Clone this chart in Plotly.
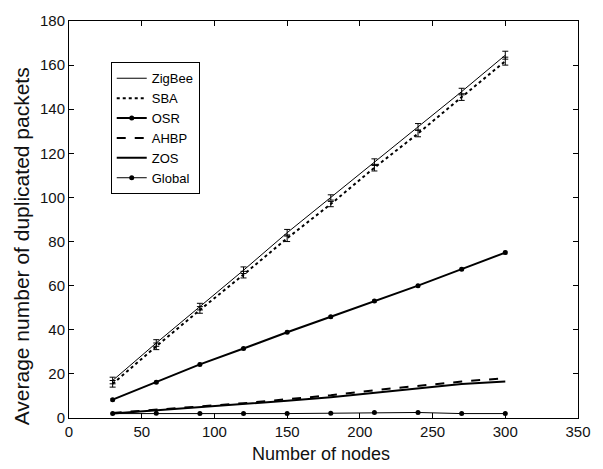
import plotly.graph_objects as go

nodes = [30, 60, 90, 120, 150, 180, 210, 240, 270, 300]
zigbee = [17.0, 34.0, 50.5, 67.0, 84.0, 100.0, 116.0, 132.0, 148.0, 164.5]
zigbee_err = [1.5, 1.5, 1.5, 1.5, 1.5, 1.2, 1.5, 1.5, 1.5, 1.8]
sba = [15.5, 32.5, 49.0, 65.0, 81.5, 97.0, 113.5, 129.0, 145.5, 161.8]
sba_err = [1.5, 1.5, 1.5, 1.5, 1.5, 1.2, 1.5, 1.5, 1.5, 1.8]
osr = [8.3, 16.2, 24.3, 31.5, 38.9, 45.9, 53.0, 60.0, 67.5, 75.0]
osr_err = [0.5, 0.5, 0.5, 0.5, 0.5, 0.5, 0.5, 0.5, 0.5, 0.6]
ahbp = [2.3, 3.7, 5.2, 6.7, 8.5, 10.3, 12.6, 14.7, 16.5, 18.1]
zos = [2.0, 3.4, 4.8, 6.2, 7.8, 9.4, 11.4, 13.6, 15.4, 16.6]
glob = [2.0, 2.1, 2.0, 2.0, 2.0, 2.1, 2.5, 2.5, 2.0, 2.0]

x_ticks = [0, 50, 100, 150, 200, 250, 300, 350]
y_ticks = [0, 20, 40, 60, 80, 100, 120, 140, 160, 180]

FONT = "Liberation Sans, Arial"

fig = go.Figure()
fig.add_trace(go.Scatter(x=nodes, y=zigbee, name="ZigBee", mode="lines",
                         line=dict(color="black", width=1),
                         error_y=dict(type="data", array=zigbee_err, color="black", thickness=1, width=3)))
fig.add_trace(go.Scatter(x=nodes, y=sba, name="SBA", mode="lines",
                         line=dict(color="black", width=2, dash="dot"),
                         error_y=dict(type="data", array=sba_err, color="black", thickness=1, width=3)))
fig.add_trace(go.Scatter(x=nodes, y=osr, name="OSR", mode="lines+markers",
                         line=dict(color="black", width=2),
                         marker=dict(color="black", size=5, symbol="circle"),
                         error_y=dict(type="data", array=osr_err, color="black", thickness=1, width=2)))
fig.add_trace(go.Scatter(x=nodes, y=ahbp, name="AHBP", mode="lines",
                         line=dict(color="black", width=2, dash="dash")))
fig.add_trace(go.Scatter(x=nodes, y=zos, name="ZOS", mode="lines",
                         line=dict(color="black", width=2)))
fig.add_trace(go.Scatter(x=nodes, y=glob, name="Global", mode="lines+markers",
                         line=dict(color="black", width=1),
                         marker=dict(color="black", size=5, symbol="circle")))

axis_common = dict(showline=True, linecolor="black", linewidth=1, mirror="allticks",
                   ticks="inside", ticklen=5, tickcolor="black", showgrid=False,
                   zeroline=False, ticklabeloverflow="allow",
                   tickfont=dict(family=FONT, size=15, color="#111"))

fig.update_layout(
    width=603, height=469,
    margin=dict(l=69, r=22, t=14, b=51),
    paper_bgcolor="white", plot_bgcolor="white",
    font=dict(family=FONT, color="black"),
    xaxis=dict(range=[-0.01, 350], tickvals=x_ticks, ticktext=[str(v) for v in x_ticks],
               **axis_common),
    yaxis=dict(range=[0, 180], tickvals=y_ticks, ticktext=[str(v) for v in y_ticks],
               **axis_common),
    legend=dict(x=0.082, y=0.896, xanchor="left", yanchor="top",
                bordercolor="black", borderwidth=1, bgcolor="white",
                font=dict(family=FONT, size=13, color="black"),
                itemwidth=30, tracegroupgap=0),
    showlegend=True,
    annotations=[
        dict(text="Number of nodes", xref="paper", yref="paper",
             x=(322 - 69) / 512, y=(418 - 455) / 404, xanchor="center", yanchor="middle",
             showarrow=False, font=dict(family=FONT, size=18, color="#111")),
        dict(text="Average number of duplicated packets", xref="paper", yref="paper",
             x=(21 - 69) / 512, y=(418 - 243) / 404, xanchor="center", yanchor="middle",
             textangle=-90, showarrow=False, font=dict(family=FONT, size=21, color="#111")),
    ],
)

fig.write_html("out.html", config={"displayModeBar": False},
               post_script="document.body.style.margin='0';document.body.style.overflow='hidden';")
